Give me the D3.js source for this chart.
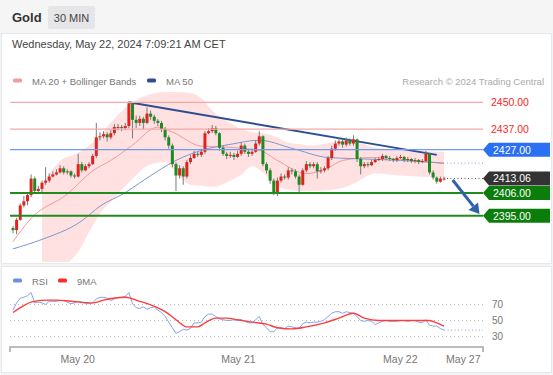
<!DOCTYPE html>
<html>
<head>
<meta charset="utf-8">
<title>Gold 30 MIN</title>
<script src="https://cdn.jsdelivr.net/npm/d3@7"></script>
<style>
	body { margin: 0; background: #f3f4f6; }
	svg { display: block; font-family: "Liberation Sans", Arial, sans-serif; }
</style>
</head>
<body>
<div id="chart"></div>
<script>
// candles, 30 min, oldest first
var candleOpen = [2389, 2388, 2393, 2400, 2402, 2405, 2413, 2407, 2408, 2411,
	2412, 2414, 2415, 2416, 2418, 2416, 2416.5, 2414.5, 2414, 2420,
	2417, 2419, 2420, 2424, 2433, 2433.5, 2434.5, 2433, 2435, 2438,
	2438, 2437.5, 2438.5, 2449.5, 2441.5, 2440, 2442, 2440, 2444.5, 2443,
	2441, 2440, 2437, 2433, 2429, 2420, 2414.5, 2418, 2414, 2421,
	2423, 2425, 2424.5, 2426, 2435, 2436, 2437.5, 2435, 2428, 2425,
	2424, 2424.5, 2423.5, 2425, 2429, 2426, 2425, 2426, 2430, 2433.5,
	2420, 2417, 2412, 2406, 2412, 2414, 2413.5, 2417, 2416.5, 2414,
	2410, 2417, 2420, 2419, 2420, 2416.5, 2417, 2418, 2423, 2427.5,
	2430, 2431, 2429.5, 2431.5, 2430, 2432, 2422.5, 2419, 2420, 2419.5,
	2421, 2422, 2422.5, 2424, 2423, 2422.5, 2422, 2423, 2423.5, 2422,
	2422.5, 2421.5, 2422, 2421, 2421.5, 2425, 2416, 2413.5, 2411.5, 2413];
var candleHigh = [2390, 2394, 2401, 2404.5, 2406, 2415, 2414, 2409.5, 2412, 2418.5,
	2415.5, 2416.5, 2417.5, 2419.5, 2419, 2417.5, 2417, 2415.5, 2425, 2421,
	2420, 2421, 2425, 2440, 2435.5, 2436, 2435.5, 2436.5, 2439.5, 2439.5,
	2439, 2440, 2450.5, 2450, 2443.5, 2443.5, 2443, 2447.5, 2446, 2444,
	2442, 2441, 2438, 2434, 2430, 2421, 2419.5, 2419, 2422, 2424.5,
	2426.5, 2426, 2427.5, 2436, 2437.5, 2439, 2438.5, 2435.5, 2429, 2426,
	2426, 2425.5, 2426.5, 2430.5, 2430, 2427, 2427.5, 2431.5, 2436, 2434,
	2421, 2418, 2413, 2413.5, 2415.5, 2415, 2418.5, 2418, 2417.5, 2415,
	2418, 2421.5, 2421, 2421, 2421, 2418.5, 2419, 2424, 2429, 2431.5,
	2433, 2432, 2433, 2432.5, 2434, 2432.5, 2423.5, 2421, 2421, 2422,
	2423, 2423.5, 2425, 2424.5, 2424, 2423, 2424, 2424.5, 2424, 2423.5,
	2423, 2423, 2422.5, 2422.5, 2426.5, 2425.5, 2417, 2414, 2414, 2414];
var candleLow = [2386.5, 2386, 2392.5, 2399, 2400, 2404, 2405.5, 2405.5, 2406.5, 2410,
	2411, 2413.5, 2414.5, 2415.5, 2415, 2415, 2413.5, 2413, 2413.5, 2416,
	2416.5, 2418, 2419.5, 2423, 2431.5, 2432.5, 2431, 2432, 2434, 2436.5,
	2436, 2436.5, 2437.5, 2432.5, 2437.5, 2438.5, 2437, 2439.5, 2441.5, 2439.5,
	2438.5, 2435.5, 2431.5, 2427.5, 2418.5, 2407, 2413, 2410, 2413, 2420,
	2422.5, 2423.5, 2423.5, 2425, 2434.5, 2435, 2434, 2426.5, 2424, 2422.5,
	2423, 2422, 2423, 2424, 2425, 2423.5, 2424, 2425.5, 2429, 2419,
	2415.5, 2410.5, 2405, 2404.5, 2411, 2412.5, 2412.5, 2415, 2413, 2406,
	2409.5, 2416, 2418, 2418, 2413, 2415.5, 2416, 2417, 2422, 2426.5,
	2429, 2428, 2428.5, 2429, 2429, 2421, 2415, 2418, 2418.5, 2419,
	2420.5, 2421.5, 2421.5, 2422, 2421.5, 2421, 2421, 2422.5, 2421, 2421,
	2420.5, 2420.5, 2420, 2420.5, 2421, 2415, 2412.5, 2410.5, 2411, 2412];
var candleClose = [2388, 2393, 2400, 2402, 2405, 2413, 2407, 2408, 2411, 2412,
	2414, 2415, 2416, 2418, 2416, 2416.5, 2414.5, 2414, 2420, 2417,
	2419, 2420, 2424, 2433, 2433.5, 2434.5, 2433, 2435, 2438, 2438,
	2437.5, 2438.5, 2449.5, 2441.5, 2440, 2442, 2440, 2444.5, 2443, 2441,
	2440, 2437, 2433, 2429, 2420, 2414.5, 2418, 2414, 2421, 2423,
	2425, 2424.5, 2426, 2435, 2436, 2437.5, 2435, 2428, 2425, 2424,
	2424.5, 2423.5, 2425, 2429, 2426, 2425, 2426, 2430, 2433.5, 2420,
	2417, 2412, 2406, 2412, 2414, 2413.5, 2417, 2416.5, 2414, 2410,
	2417, 2420, 2419, 2420, 2416.5, 2417, 2418, 2423, 2427.5, 2430,
	2431, 2429.5, 2431.5, 2430, 2432, 2422.5, 2419, 2420, 2419.5, 2421,
	2422, 2422.5, 2424, 2423, 2422.5, 2422, 2423, 2423.5, 2422, 2422.5,
	2421.5, 2422, 2421, 2421.5, 2425, 2416, 2413.5, 2411.5, 2413, 2413.06];

// moving averages and bollinger bands (candle index, price)
var ma20Idx = [0, 5, 15, 22, 27, 33, 40, 44, 52, 59, 68, 73, 81, 87, 91, 99, 107, 119];
var ma20Vals = [2382.4, 2393.7, 2405.5, 2416.8, 2421.8, 2429.2, 2438, 2435.6, 2428.7, 2428.2, 2426.7, 2421.8, 2415.4, 2418.3, 2421.8, 2423.2, 2422.3, 2420.3];
var ma50Idx = [0, 8, 19, 24, 31, 35, 41, 45, 52, 60, 68, 77, 87, 94, 107, 119];
var ma50Vals = [2378.9, 2383.5, 2392.5, 2399.6, 2406.2, 2410.9, 2417.8, 2421.8, 2426.7, 2429.6, 2431.6, 2427.7, 2423.2, 2422.7, 2421.8, 2420.5];
var bandIdx = [8, 13, 18, 21, 24, 28, 33, 38, 42, 45, 49, 52, 55, 60, 63, 66, 69, 73, 75, 80, 82, 88, 91, 94, 100, 107, 119];
var bandUpper = [2410, 2421.5, 2425.5, 2429, 2434, 2442, 2450, 2454, 2455, 2455, 2454.5, 2452, 2446, 2440, 2437, 2435.5, 2435, 2433, 2431, 2429.5, 2429, 2430.5, 2431.5, 2431, 2428, 2427, 2426];
var bandLower = [2367, 2370, 2377.5, 2387, 2396, 2403.5, 2413, 2420, 2421, 2416, 2410, 2409.5, 2409, 2412, 2415, 2419, 2416, 2409.5, 2408, 2407, 2407, 2407.5, 2408.5, 2410.5, 2415.5, 2414.5, 2413.5];

// rsi per candle and its 9 period average
var rsiVals = [63, 72, 78, 79, 81, 85, 72, 73, 72, 70,
	74, 74, 74, 75, 75, 73, 71, 72, 74, 73,
	71, 71, 72, 77, 79, 79, 78, 75, 77, 79,
	79, 80, 85, 71, 66, 65, 67, 64, 66, 67,
	63, 60, 55, 48, 41, 34, 36, 39, 38, 40,
	47, 47, 48, 55, 58, 58, 55, 52, 51, 50,
	50, 51, 50, 51, 49, 47, 47, 51, 55, 45,
	41, 36, 36, 41, 41, 40, 43, 42, 41, 40,
	46, 48, 47, 48, 48, 49, 51, 55, 59, 61,
	61, 59, 61, 60, 59, 55, 50, 49, 50, 49,
	45, 47, 49, 50, 49, 49, 49, 50, 50, 49,
	50, 50, 48, 47, 51, 44, 43, 43, 40, 38];
var rsiMaIdx = [0, 2, 5, 9, 12, 16, 22, 25, 31, 35, 38, 42, 45, 48, 51, 53, 56, 59, 62, 66, 70, 73, 77, 81, 86, 90, 94, 97, 101, 108, 115, 117, 119];
var rsiMaVals = [60, 66, 73, 75.5, 75.5, 74, 72, 75.5, 79, 74, 69.5, 61, 51, 42, 42, 47, 53, 53, 51, 48, 45.5, 41, 39.5, 42, 47, 53, 59, 53, 50, 50, 50, 47, 43];
var rsiTicks = [70, 50, 30];

// levels and annotations
var levelValues = [2450, 2437, 2427, 2406, 2395];
var levelKinds = ["resistance", "resistance", "pivot", "support", "support"];
var lastPrice = 2413.06;
var trendIdx = [32, 117];
var trendVals = [2450, 2424.5];
var arrowIdx = [121.4, 128.8];
var arrowVals = [2412.3, 2395.8];
var tickPos = [17.7, 62.1, 106.8, 124.2];
var tickLabels = ["May 20", "May 21", "May 22", "May 27"];

function GoldChart (targetDomElement) {
	var chartObject = {};
	var width = 553;
	var height = 375;
	var plotLeft = 10;
	var plotRight = 483;
	var svg;
	var x;
	var y;
	var yRsi;

	function constructor (targetDomElement) {
		svg = d3.select(targetDomElement)
			.append("svg")
			.attr("width", width)
			.attr("height", height);

		x = d3.scaleLinear().domain([0, 119]).range([13, 444]);
		y = d3.scaleLinear().domain([2395, 2450]).range([215.7, 102.3]);
		yRsi = d3.scaleLinear().domain([30, 70]).range([336.5, 304.5]);

		return chartObject;
	}

	chartObject.render = function () {
		drawFrame();
		drawPricePanel();
		drawRsiPanel();
		drawAxis();
	};

	function drawFrame () {
		svg.append("rect").attr("width", width).attr("height", 33).attr("fill", "#f5f5f6");
		svg.append("rect").attr("x", 1.5).attr("y", 33.5).attr("width", 550).attr("height", 230)
			.attr("fill", "#fff").attr("stroke", "#e8e8ea");
		svg.append("rect").attr("x", 1.5).attr("y", 266.5).attr("width", 550).attr("height", 106)
			.attr("fill", "#fff").attr("stroke", "#e8e8ea");

		svg.append("text").attr("x", 12).attr("y", 22)
			.attr("font-size", "13px").attr("font-weight", "bold").attr("fill", "#333")
			.text("Gold");
		svg.append("rect").attr("x", 48).attr("y", 6).attr("width", 47).attr("height", 23)
			.attr("rx", 2).attr("fill", "#e6e6e8");
		svg.append("text").attr("x", 71.5).attr("y", 21.5).attr("text-anchor", "middle")
			.attr("font-size", "11px").attr("fill", "#444")
			.text("30 MIN");
		svg.append("text").attr("x", 12).attr("y", 48)
			.attr("font-size", "11px").attr("fill", "#444")
			.text("Wednesday, May 22, 2024 7:09:21 AM CET");
	}

	function legendItem (g, lx, ly, color, label) {
		g.append("rect").attr("x", lx).attr("y", ly - 6).attr("width", 9).attr("height", 4)
			.attr("rx", 1.5).attr("fill", color);
		g.append("text").attr("x", lx + 19).attr("y", ly)
			.attr("font-size", "9.5px").attr("fill", "#777")
			.text(label);
	}

	function labelBox (value, color) {
		var yc = y(value);
		var x0 = plotRight;
		var x1 = 550;
		var h = 7;
		svg.append("path")
			.attr("d", "M" + x0 + "," + yc + "L" + (x0 + 6) + "," + (yc - h) + "L" + x1 + "," + (yc - h) +
				"L" + x1 + "," + (yc + h) + "L" + (x0 + 6) + "," + (yc + h) + "Z")
			.attr("fill", color);
		svg.append("text").attr("x", 493).attr("y", yc + 3.8)
			.attr("font-size", "10.5px").attr("fill", "#fff")
			.text(d3.format(".2f")(value));
	}

	function drawPricePanel () {
		var legend = svg.append("g");
		legendItem(legend, 13, 84.5, "#f49c9c", "MA 20 + Bollinger Bands");
		legendItem(legend, 147, 84.5, "#2d4f91", "MA 50");
		legend.append("text").attr("x", 544).attr("y", 84.5).attr("text-anchor", "end")
			.attr("font-size", "9.5px").attr("fill", "#aaa")
			.text("Research \u00a9 2024 Trading Central");

		svg.append("clipPath").attr("id", "plotClip")
			.append("rect").attr("x", plotLeft).attr("y", 88).attr("width", plotRight - plotLeft).attr("height", 174);

		var plot = svg.append("g").attr("clip-path", "url(#plotClip)");

		// bollinger band
		var band = d3.area()
			.x(function (d) { return x(bandIdx[d]); })
			.y0(function (d) { return y(bandLower[d]); })
			.y1(function (d) { return y(bandUpper[d]); })
			.curve(d3.curveMonotoneX);
		plot.append("path")
			.attr("d", band(d3.range(bandIdx.length)))
			.attr("fill", "#ffe1e1");

		var line = d3.line().curve(d3.curveMonotoneX);
		plot.append("path")
			.attr("d", line(ma20Idx.map(function (d, i) { return [x(d), y(ma20Vals[i])]; })))
			.attr("fill", "none").attr("stroke", "#f59898").attr("stroke-width", 1);
		plot.append("path")
			.attr("d", line(ma50Idx.map(function (d, i) { return [x(d), y(ma50Vals[i])]; })))
			.attr("fill", "none").attr("stroke", "#7d98cf").attr("stroke-width", 1);

		// levels
		var levelColor = { resistance: "#f6a8a8", pivot: "#6d9cf2", support: "#1f8c1f" };
		levelValues.forEach(function (v, i) {
			svg.append("line")
				.attr("x1", plotLeft).attr("x2", plotRight)
				.attr("y1", y(v)).attr("y2", y(v))
				.attr("stroke", levelColor[levelKinds[i]])
				.attr("stroke-width", levelKinds[i] === "support" ? 2 : 1.3);
		});

		// trend line
		plot.append("line")
			.attr("x1", x(trendIdx[0])).attr("y1", y(trendVals[0]))
			.attr("x2", x(trendIdx[1])).attr("y2", y(trendVals[1]))
			.attr("stroke", "#2d4f91").attr("stroke-width", 2);

		// dotted extensions of last values
		var lastX = x(candleClose.length - 1) + 3;
		svg.append("line")
			.attr("x1", lastX).attr("x2", plotRight)
			.attr("y1", y(ma50Vals[ma50Vals.length - 1])).attr("y2", y(ma50Vals[ma50Vals.length - 1]))
			.attr("stroke", "#8aa2d6").attr("stroke-dasharray", "1,2.5");
		svg.append("line")
			.attr("x1", lastX).attr("x2", plotRight)
			.attr("y1", y(lastPrice)).attr("y2", y(lastPrice))
			.attr("stroke", "#555").attr("stroke-dasharray", "1,2.5");

		// candles
		var idx = d3.range(candleClose.length);
		var candles = plot.append("g");
		candles.selectAll(".wick")
			.data(idx)
			.enter()
			.append("line")
			.classed("wick", true)
			.attr("x1", function (d) { return x(d); })
			.attr("x2", function (d) { return x(d); })
			.attr("y1", function (d) { return y(candleHigh[d]); })
			.attr("y2", function (d) { return y(candleLow[d]); })
			.attr("stroke", "#7a7a7a").attr("stroke-width", 1);
		candles.selectAll(".body")
			.data(idx)
			.enter()
			.append("rect")
			.classed("body", true)
			.attr("x", function (d) { return x(d) - 1.5; })
			.attr("width", 3)
			.attr("y", function (d) { return y(Math.max(candleOpen[d], candleClose[d])); })
			.attr("height", function (d) {
				return Math.max(1, Math.abs(y(candleOpen[d]) - y(candleClose[d])));
			})
			.attr("fill", function (d) { return candleClose[d] >= candleOpen[d] ? "#e0231f" : "#1f8a22"; });

		// forecast arrow
		var ax0 = x(arrowIdx[0]);
		var ay0 = y(arrowVals[0]);
		var ax1 = x(arrowIdx[1]);
		var ay1 = y(arrowVals[1]);
		var ang = Math.atan2(ay1 - ay0, ax1 - ax0);
		var headLen = 10;
		var bx = ax1 - headLen * Math.cos(ang);
		var by = ay1 - headLen * Math.sin(ang);
		svg.append("line")
			.attr("x1", ax0).attr("y1", ay0).attr("x2", bx).attr("y2", by)
			.attr("stroke", "#2f62a6").attr("stroke-width", 3);
		svg.append("path")
			.attr("d", "M" + ax1 + "," + ay1 +
				"L" + (bx + 6 * Math.sin(ang)) + "," + (by - 6 * Math.cos(ang)) +
				"L" + (bx - 6 * Math.sin(ang)) + "," + (by + 6 * Math.cos(ang)) + "Z")
			.attr("fill", "#2f62a6");

		// right side labels
		levelValues.forEach(function (v, i) {
			if (levelKinds[i] === "resistance") {
				svg.append("text").attr("x", 491).attr("y", y(v) + 3.8)
					.attr("font-size", "10.5px").attr("fill", "#ff1e1e")
					.text(d3.format(".2f")(v));
			} else {
				labelBox(v, levelKinds[i] === "pivot" ? "#2b6ff2" : "#0b7d0b");
			}
		});
		labelBox(lastPrice, "#333");
	}

	function drawRsiPanel () {
		var legend = svg.append("g");
		legendItem(legend, 13, 284.5, "#6f8fe0", "RSI");
		legendItem(legend, 58, 284.5, "#ff2a2a", "9MA");

		rsiTicks.forEach(function (t) {
			svg.append("line")
				.attr("x1", plotLeft).attr("x2", plotRight)
				.attr("y1", yRsi(t)).attr("y2", yRsi(t))
				.attr("stroke", "#bbb").attr("stroke-dasharray", "1,3");
			svg.append("text").attr("x", 492).attr("y", yRsi(t) + 3.6)
				.attr("font-size", "10px").attr("fill", "#777")
				.text(t);
		});

		var line = d3.line();
		svg.append("path")
			.attr("d", line(rsiVals.map(function (v, i) { return [x(i), yRsi(v)]; })))
			.attr("fill", "none").attr("stroke", "#86a2ea").attr("stroke-width", 1);
		svg.append("line")
			.attr("x1", x(rsiVals.length - 1)).attr("x2", plotRight)
			.attr("y1", yRsi(rsiVals[rsiVals.length - 1])).attr("y2", yRsi(rsiVals[rsiVals.length - 1]))
			.attr("stroke", "#86a2ea").attr("stroke-dasharray", "1,2.5");

		var smooth = d3.line().curve(d3.curveMonotoneX);
		svg.append("path")
			.attr("d", smooth(rsiMaIdx.map(function (d, i) { return [x(d), yRsi(rsiMaVals[i])]; })))
			.attr("fill", "none").attr("stroke", "#ff3c3c").attr("stroke-width", 1.4);
	}

	function drawAxis () {
		var axisY = 347;
		var tickScale = d3.scaleLinear().domain([0, 119]).range([13, 444]);
		var axis = d3.axisBottom(tickScale)
			.tickValues(tickPos)
			.tickSize(0)
			.tickPadding(9)
			.tickFormat(function (d, i) { return tickLabels[i]; });

		var g = svg.append("g").attr("transform", "translate(0," + axisY + ")").call(axis);
		g.select(".domain").remove();
		g.selectAll("text").attr("font-size", "10.5px").attr("fill", "#777")
			.attr("font-family", "Liberation Sans, Arial, sans-serif");

		svg.append("path")
			.attr("d", "M" + plotLeft + "," + (axisY + 5) + "V" + axisY + "H" + plotRight + "V" + (axisY + 5))
			.attr("fill", "none").attr("stroke", "#a6a6a6").attr("stroke-width", 1.5);
	}

	return constructor(targetDomElement);
}

GoldChart(document.getElementById("chart")).render();
</script>
</body>
</html>
